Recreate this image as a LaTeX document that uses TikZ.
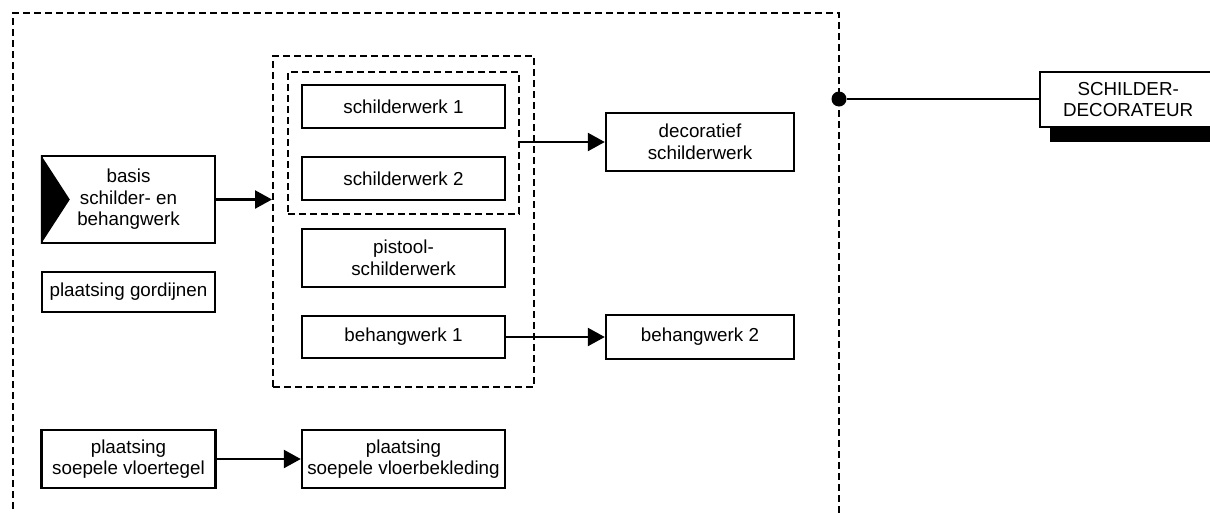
\documentclass[tikz,border=0pt]{standalone}
\usepackage{fontspec}
\setmainfont{Liberation Sans}
\usepackage{tikz}
\usetikzlibrary{positioning}
\usetikzlibrary{arrows.meta}
\usetikzlibrary{calc}
\tikzstyle{taak}=[draw=black,line width=2.4pt,shape=rectangle,fill=white,align=center,inner sep=0pt,minimum width=203pt,minimum height=43pt,font=\fontsize{18.8}{21.5}\selectfont]
\tikzstyle{groep}=[draw=black,line width=2pt,dash pattern=on 7pt off 4pt,shape=rectangle,inner sep=0pt]
\tikzstyle{pijl}=[-{Triangle[length=17pt,width=18pt]},line width=2.4pt,color=black]

\begin{document}
\begin{tikzpicture}[x=1pt,y=-1pt]
	\useasboundingbox (0,0) rectangle (1210,512);
	
	% kader
	\draw[line width=2pt,dash pattern=on 7pt off 4pt] (13,520) -- (13,13) -- (839,13) -- (839,520);
	
	% linkerkolom
	\node[taak,minimum width=173pt,minimum height=87pt] (basis) at (128.5,199.5) {basis\\schilder- en\\behangwerk};
	\fill (basis.north west) -- ($(basis.west)+(29,0)$) -- (basis.south west) -- cycle;
	\node[taak,minimum width=173pt,minimum height=40pt] (gordijn) at (128.5,292) {plaatsing gordijnen};
	\node[taak,minimum width=174pt,minimum height=58pt] (tegel) at (128.5,459) {plaatsing\\soepele vloertegel};
	\node[taak,minimum height=58pt] (bekleding) at (403.5,459) {plaatsing\\soepele vloerbekleding};
	
	% middenkolom
	\node[groep,minimum width=261pt,minimum height=331pt] (midden) at (403.5,221.5) {};
	\node[groep,minimum width=231pt,minimum height=142pt] (schilder) at (403.5,143) {};
	\node[taak] (sw1) at (403.5,106.5) {schilderwerk 1};
	\node[taak] (sw2) at (403.5,178.5) {schilderwerk 2};
	\node[taak,minimum height=58pt] (pistool) at (403.5,258) {pistool-\\schilderwerk};
	\node[taak,minimum height=42pt] (bw1) at (403.5,337) {behangwerk 1};
	
	% rechterkolom
	\node[taak,minimum width=188pt,minimum height=58pt] (deco) at (700,142) {decoratief\\schilderwerk};
	\node[taak,minimum width=188pt,minimum height=44pt] (bw2) at (700,337) {behangwerk 2};
	
	% beroep
	\node[circle,fill=black,inner sep=0pt,minimum size=15pt] (punt) at (839,99) {};
	\fill (1050,112) rectangle (1222,142);
	\node[taak,minimum width=176pt,minimum height=55pt,anchor=west] (beroep) at (1039,99.5) {SCHILDER-\\DECORATEUR};
	
	\draw[pijl] (basis.east) -- (basis.east -| midden.west);
	\draw[pijl] (deco.west -| schilder.east) -- (deco.west);
	\draw[pijl] (bw1) -- (bw2);
	\draw[pijl] (tegel) -- (bekleding);
	\draw[line width=2.4pt] (punt) -- (punt -| beroep.west);
	
\end{tikzpicture}
\end{document}
